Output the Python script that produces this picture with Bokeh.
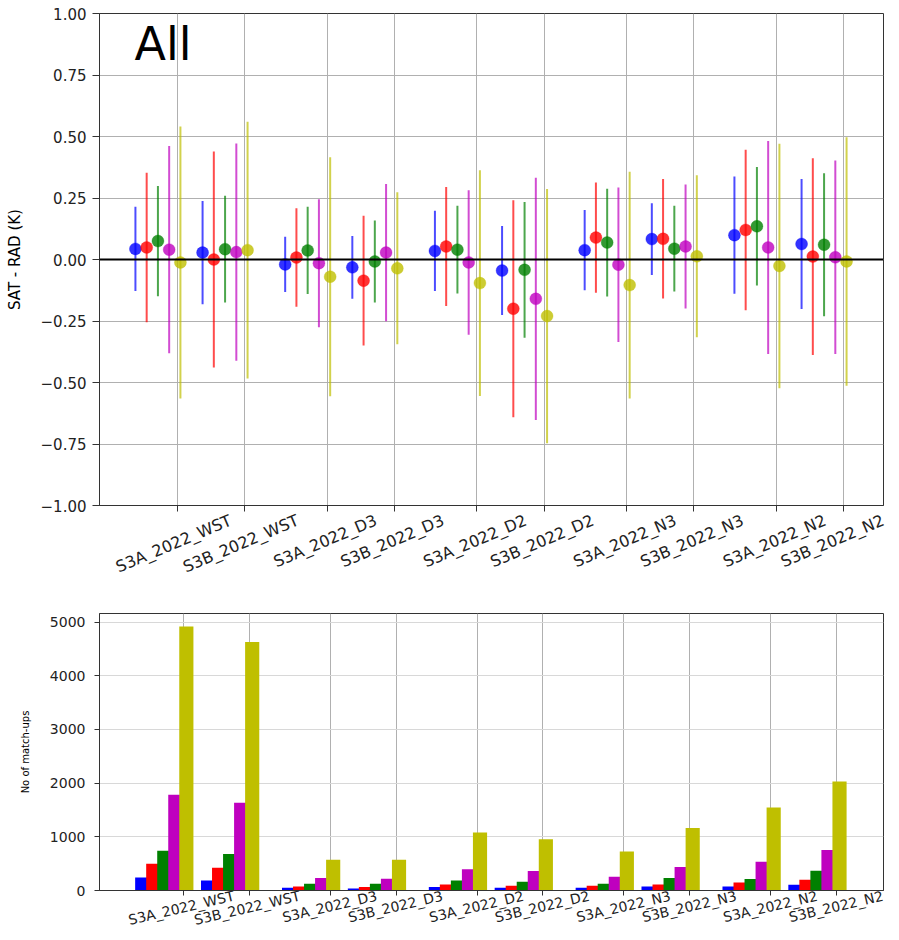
import numpy as np
from bokeh.plotting import figure
from bokeh.models import (FixedTicker, Range1d, Span, Label, ColumnDataSource, LinearAxis)
from bokeh.layouts import column
from bokeh.embed import file_html
from bokeh.resources import INLINE

# ---------------- data ----------------
categories = ["S3A_2022_WST", "S3B_2022_WST", "S3A_2022_D3", "S3B_2022_D3",
              "S3A_2022_D2", "S3B_2022_D2", "S3A_2022_N3", "S3B_2022_N3",
              "S3A_2022_N2", "S3B_2022_N2"]

series_colors = ["#0000ff", "#ff0000", "#008000", "#bf00bf", "#bfbf00"]

# mean SAT - RAD (K) per series
bias_blue = [0.043, 0.028, -0.020, -0.032, 0.035, -0.045, 0.038, 0.083, 0.099, 0.063]
bias_red = [0.049, 0.000, 0.008, -0.086, 0.053, -0.200, 0.089, 0.084, 0.120, 0.012]
bias_green = [0.075, 0.042, 0.037, -0.008, 0.040, -0.042, 0.069, 0.044, 0.135, 0.060]
bias_magenta = [0.040, 0.030, -0.015, 0.028, -0.012, -0.160, -0.021, 0.053, 0.049, 0.009]
bias_yellow = [-0.012, 0.038, -0.070, -0.036, -0.096, -0.230, -0.104, 0.013, -0.026, -0.008]

# standard deviation (K) per series
sd_blue = [0.171, 0.210, 0.112, 0.128, 0.163, 0.181, 0.163, 0.146, 0.238, 0.264]
sd_red = [0.304, 0.439, 0.200, 0.264, 0.242, 0.441, 0.224, 0.243, 0.326, 0.400]
sd_green = [0.224, 0.217, 0.177, 0.167, 0.178, 0.276, 0.219, 0.174, 0.241, 0.291]
sd_magenta = [0.421, 0.442, 0.260, 0.279, 0.294, 0.492, 0.314, 0.252, 0.433, 0.393]
sd_yellow = [0.553, 0.522, 0.486, 0.309, 0.459, 0.517, 0.461, 0.329, 0.497, 0.505]

# number of match-ups per series
count_blue = [242, 186, 50, 37, 63, 50, 50, 75, 75, 106]
count_red = [497, 423, 75, 63, 112, 87, 87, 112, 149, 199]
count_green = [740, 678, 125, 125, 186, 162, 125, 231, 212, 367]
count_magenta = [1783, 1634, 231, 218, 398, 361, 255, 436, 535, 753]
count_yellow = [4918, 4628, 572, 572, 1081, 957, 727, 1162, 1546, 2031]

y_ticks_top = [-1.0, -0.75, -0.5, -0.25, 0.0, 0.25, 0.5, 0.75, 1.0]
y_ticks_bottom = [0, 1000, 2000, 3000, 4000, 5000]

biases = [bias_blue, bias_red, bias_green, bias_magenta, bias_yellow]
sds = [sd_blue, sd_red, sd_green, sd_magenta, sd_yellow]
counts = [count_blue, count_red, count_green, count_magenta, count_yellow]

# ---------------- layout helpers ----------------
pos = [round(i + 0.23 * (i // 2), 3) for i in range(len(categories))]
offsets = [-0.625 + k * 0.1675 for k in range(5)]
FONT = "DejaVu Sans"

def style(p, tick_size):
    p.outline_line_color = "#333333"
    p.outline_line_width = 1
    for ax in (p.xaxis, p.yaxis):
        ax.axis_line_color = "#333333"
        ax.major_tick_line_color = "#333333"
        ax.major_tick_in = 0
        ax.minor_tick_line_color = None
        ax.major_label_text_font = FONT
        ax.major_label_text_color = "#222222"
        ax.major_label_text_font_size = tick_size
        ax.axis_label_text_font = FONT
        ax.axis_label_text_font_style = "normal"
        ax.axis_label_text_color = "black"
    p.xaxis.ticker = FixedTicker(ticks=pos)
    p.xaxis.major_label_overrides = {t: "" for t in pos}
    p.xaxis.major_label_text_font_size = "0px"
    p.xaxis.major_label_standoff = 0
    p.grid.grid_line_color = "#b0b0b0"
    p.grid.grid_line_width = 1

def add_label_axis(p, angle, font_size, px_per_char, px_per_unit, standoff):
    # rotated labels are right-anchored by Bokeh: shift anchor so label is centred on its tick
    x_end = p.x_range.end - 0.005
    shifted = [round(min(pos[i] + len(categories[i]) * px_per_char / px_per_unit, x_end), 3)
               for i in range(len(categories))]
    ax = LinearAxis(ticker=FixedTicker(ticks=shifted),
                    major_label_overrides={shifted[i]: categories[i] for i in range(len(categories))},
                    major_label_orientation=angle, axis_line_color=None,
                    major_tick_line_color=None, minor_tick_line_color=None,
                    major_tick_in=0, major_tick_out=0, major_label_standoff=standoff,
                    major_label_text_font=FONT, major_label_text_font_size=font_size,
                    major_label_text_color="#222222")
    p.add_layout(ax, "below")

# ---------------- top: bias with error bars ----------------
p1 = figure(width=890, height=588, x_range=Range1d(-1.16, 10.515), y_range=Range1d(-1, 1),
            output_backend="svg", toolbar_location=None,
            min_border_left=98, min_border_right=7, min_border_top=13, min_border_bottom=83)
style(p1, "15px")
p1.xaxis.major_tick_out = 6
p1.yaxis.major_tick_out = 7
p1.yaxis.ticker = FixedTicker(ticks=y_ticks_top)
p1.yaxis.major_label_overrides = {t: ("%.2f" % t).replace("-", "\u2212") for t in y_ticks_top}
p1.yaxis.axis_label = "SAT - RAD (K)"
p1.yaxis.axis_label_text_font_size = "15px"
p1.yaxis.axis_label_standoff = 14
p1.yaxis.major_label_standoff = 6

for k in range(5):
    m = np.array(biases[k]); s = np.array(sds[k])
    src = ColumnDataSource(dict(x=np.array(pos) + offsets[k], m=m, lo=m - s, hi=m + s))
    p1.segment(x0="x", y0="lo", x1="x", y1="hi", source=src,
               line_color=series_colors[k], line_width=2, line_alpha=0.7)
    p1.scatter(x="x", y="m", source=src, size=12, fill_color=series_colors[k],
               fill_alpha=0.8, line_color=series_colors[k], line_alpha=0.3)

p1.add_layout(Span(location=0, dimension="width", line_color="black", line_width=2))
p1.add_layout(Label(x=-0.64, y=0.767, text="All", text_font=FONT,
                    text_font_size="46px", text_color="black"))
add_label_axis(p1, 0.40, "16px", 4.45, 67.24, 8)

# ---------------- bottom: number of match-ups ----------------
p2 = figure(width=890, height=351, x_range=Range1d(-1.274, 10.633), y_range=Range1d(0, 5160),
            output_backend="svg", toolbar_location=None,
            min_border_left=99, min_border_right=6, min_border_top=25, min_border_bottom=49)
style(p2, "14px")
p2.xaxis.major_tick_out = 5
p2.yaxis.major_tick_out = 5
p2.yaxis.ticker = FixedTicker(ticks=y_ticks_bottom)
p2.yaxis.axis_label = "No of match-ups"
p2.yaxis.axis_label_text_font_size = "10px"
p2.yaxis.axis_label_standoff = 16
p2.yaxis.major_label_standoff = 9
p2.ygrid.grid_line_color = "#d8d8d8"

for k in range(5):
    src = ColumnDataSource(dict(x=np.array(pos) + offsets[k], c=counts[k]))
    p2.vbar(x="x", top="c", width=0.215, bottom=0, source=src,
            fill_color=series_colors[k], line_color=None)

add_label_axis(p2, 0.23, "14px", 4.23, 65.93, 0)

layout = column(p1, p2)
open("out.html", "w").write(file_html(layout, INLINE))
